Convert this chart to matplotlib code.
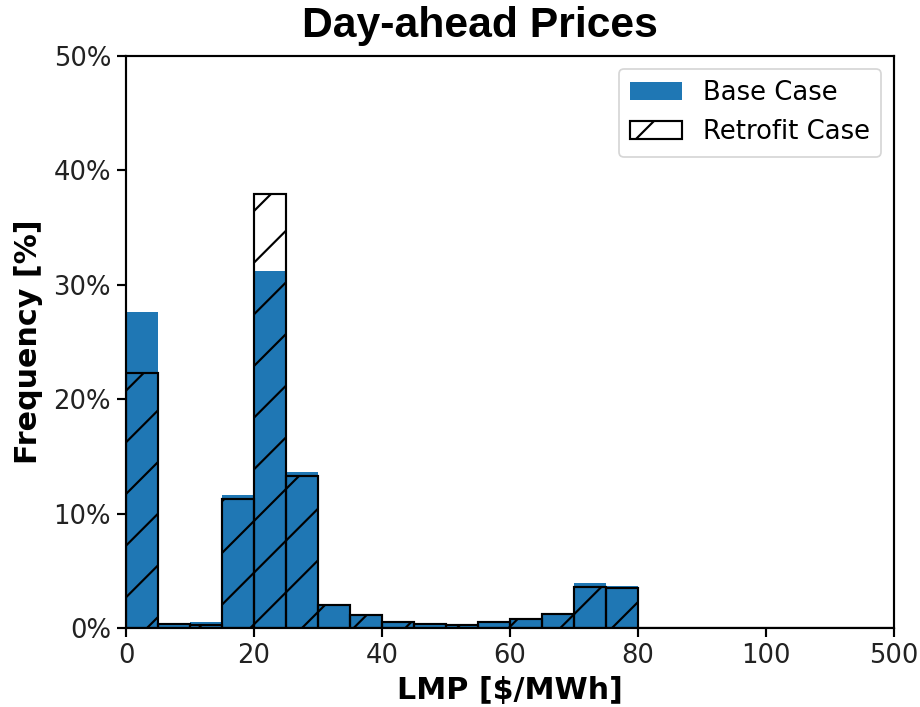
import matplotlib
matplotlib.use("Agg")
import matplotlib.pyplot as plt
import numpy as np

# Bin left edges ($/MWh, last bins represent >100 up to 500)
bin_left = [0, 5, 10, 15, 20, 25, 30, 35, 40, 45, 50, 55, 60, 65, 70, 75, 80, 85, 90, 95, 100, 105, 110, 115]
base_case = [27.6, 0.45, 0.5, 11.6, 31.2, 13.6, 2.0, 1.17, 0.55, 0.38, 0.35, 0.6, 0.8, 1.2, 3.9, 3.65, 0, 0, 0, 0, 0, 0, 0, 0]
retrofit_case = [22.3, 0.35, 0.3, 11.3, 37.9, 13.3, 2.0, 1.17, 0.5, 0.33, 0.25, 0.5, 0.75, 1.2, 3.6, 3.5, 0, 0, 0, 0, 0, 0, 0, 0]
xtick_pos = [0, 20, 40, 60, 80, 100, 120]
xtick_labels = ["0", "20", "40", "60", "80", "100", "500"]
ytick_pos = [0, 10, 20, 30, 40, 50]

DPI = 310
plt.rcParams["hatch.linewidth"] = 0.5
fig = plt.figure(figsize=(920 / DPI, 707 / DPI), dpi=DPI)
ax = fig.add_axes([0.137, 0.1117, 0.835, 0.8092])

ax.bar(bin_left, base_case, width=5, align="edge", color="#1f77b4", linewidth=0, label="Base Case")
ax.bar(bin_left, retrofit_case, width=5, align="edge", fill=False, hatch="//", edgecolor="black",
       linewidth=0.5, label="Retrofit Case")

ax.set_xlim(0, 120)
ax.set_ylim(0, 50)
ax.set_xticks(xtick_pos)
ax.set_xticklabels(xtick_labels)
ax.set_yticks(ytick_pos)
ax.set_yticklabels([f"{v}%" for v in ytick_pos])
for s in ax.spines.values():
    s.set_linewidth(0.5)
ax.tick_params(labelsize=6.0, length=2.0, width=0.5, pad=1.5, colors="black", labelcolor="#222222")

ax.set_xlabel("LMP [$/MWh]", fontsize=7.0, fontweight="bold", labelpad=1.5)
ax.set_ylabel("Frequency [%]", fontsize=7.0, fontweight="bold", labelpad=2.5)
t = ax.set_title("Day-ahead Prices", fontsize=9.9, fontweight="bold", family="Liberation Sans", pad=4.5)
t.set_x(0.461)

leg = ax.legend(loc="upper right", fontsize=6.0, frameon=True, borderpad=0.45)
leg.get_frame().set_linewidth(0.4)

fig.savefig("out.png", dpi=DPI)
